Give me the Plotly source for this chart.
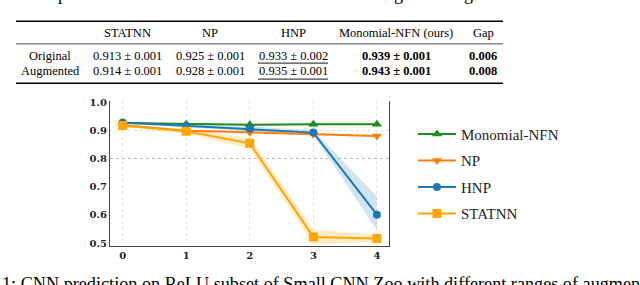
import plotly.graph_objects as go

# ---------------- table data ----------------
table_headers = ["STATNN", "NP", "HNP", "Monomial-NFN (ours)", "Gap"]
row_labels = ["Original", "Augmented"]
statnn_mean = [0.913, 0.914]
statnn_std = [0.001, 0.001]
np_mean = [0.925, 0.928]
np_std = [0.001, 0.001]
hnp_mean = [0.933, 0.935]
hnp_std = [0.002, 0.001]
mnfn_mean = [0.939, 0.943]
mnfn_std = [0.001, 0.001]
gap_values = [0.006, 0.008]

# ---------------- chart data ----------------
aug_levels = [0, 1, 2, 3, 4]
series_names = ["Monomial-NFN", "NP", "HNP", "STATNN"]
monomial_nfn = [0.926, 0.922, 0.920, 0.922, 0.922]
monomial_nfn_lo = [0.923, 0.919, 0.917, 0.919, 0.919]
monomial_nfn_hi = [0.929, 0.925, 0.923, 0.925, 0.925]
np_curve = [0.918, 0.899, 0.893, 0.886, 0.880]
np_curve_lo = [0.915, 0.896, 0.889, 0.883, 0.876]
np_curve_hi = [0.921, 0.902, 0.897, 0.889, 0.884]
hnp_curve = [0.928, 0.916, 0.906, 0.892, 0.601]
hnp_curve_lo = [0.924, 0.911, 0.898, 0.884, 0.545]
hnp_curve_hi = [0.932, 0.921, 0.914, 0.900, 0.665]
statnn_curve = [0.917, 0.897, 0.854, 0.522, 0.516]
statnn_curve_lo = [0.912, 0.889, 0.835, 0.495, 0.505]
statnn_curve_hi = [0.922, 0.905, 0.872, 0.548, 0.530]
x_tick_labels = ["0", "1", "2", "3", "4"]
y_tick_values = [0.5, 0.6, 0.7, 0.8, 0.9, 1.0]
y_tick_labels = ["0.5", "0.6", "0.7", "0.8", "0.9", "1.0"]
ref_lines = [0.9, 0.8]

caption_text = "1: CNN prediction on ReLU subset of Small CNN Zoo with different ranges of augmen"
top_fragments = ["p", "g", "g"]

# ---------------- styles ----------------
W, H = 640, 285
SERIF = "Liberation Serif, Times New Roman, serif"
colors = ["#1e8c1e", "#ff7f0e", "#1f77b4", "#ffa500"]
fills = ["rgba(30,140,30,0.18)", "rgba(255,127,14,0.18)",
         "rgba(31,119,180,0.2)", "rgba(255,165,0,0.22)"]
symbols = ["triangle-up", "triangle-down", "circle", "square"]


def px(x):
    return x / W


def py(y):
    return 1 - y / H


fig = go.Figure()

means = [monomial_nfn, np_curve, hnp_curve, statnn_curve]
los = [monomial_nfn_lo, np_curve_lo, hnp_curve_lo, statnn_curve_lo]
his = [monomial_nfn_hi, np_curve_hi, hnp_curve_hi, statnn_curve_hi]

# bands
for i in range(4):
    fig.add_trace(go.Scatter(x=aug_levels, y=his[i], mode="lines",
                             line=dict(width=0, color=fills[i]),
                             showlegend=False, hoverinfo="skip"))
    fig.add_trace(go.Scatter(x=aug_levels, y=los[i], mode="lines",
                             line=dict(width=0, color=fills[i]),
                             fill="tonexty", fillcolor=fills[i],
                             showlegend=False, hoverinfo="skip"))

# lines
for i in range(4):
    fig.add_trace(go.Scatter(x=aug_levels, y=means[i], mode="lines+markers",
                             name=series_names[i], legendgroup=series_names[i],
                             line=dict(color=colors[i], width=2),
                             marker=dict(symbol=symbols[i], size=9 if i != 2 else 8,
                                         color=colors[i], line=dict(width=0))))

shapes = []
for v in ref_lines:
    shapes.append(dict(type="line", xref="paper", yref="y",
                       x0=px(110), x1=px(389), y0=v, y1=v,
                       line=dict(color="#bbbbbb" if v == 0.8 else "#dddddd",
                                 width=1, dash="dot"), layer="below"))

# ---------------- table ----------------
col_x = [127, 210, 293, 396, 483]
row_y = [52.5, 68.3]
header_y = 29
label_x = 50
TFS = 12.5
annotations = []
for h, cx in zip(table_headers, col_x):
    annotations.append(dict(x=px(cx), y=py(header_y), xref="paper", yref="paper",
                            text=h, showarrow=False, xanchor="center", yanchor="middle",
                            font=dict(family=SERIF, size=TFS, color="black")))
for r in range(2):
    cells = [
        f"{statnn_mean[r]:.3f} ± {statnn_std[r]:.3f}",
        f"{np_mean[r]:.3f} ± {np_std[r]:.3f}",
        f"{hnp_mean[r]:.3f} ± {hnp_std[r]:.3f}",
        f"<b>{mnfn_mean[r]:.3f} ± {mnfn_std[r]:.3f}</b>",
        f"<b>{gap_values[r]:.3f}</b>",
    ]
    annotations.append(dict(x=px(label_x), y=py(row_y[r]), xref="paper", yref="paper",
                            text=row_labels[r], showarrow=False, xanchor="center",
                            yanchor="middle",
                            font=dict(family=SERIF, size=TFS, color="black")))
    for c, cx in zip(cells, col_x):
        annotations.append(dict(x=px(cx), y=py(row_y[r]), xref="paper", yref="paper",
                                text=c, showarrow=False, xanchor="center", yanchor="middle",
                                font=dict(family=SERIF, size=TFS, color="black")))

# rules
for yy, w in [(16.7, 1.3), (40, 0.7), (80.5, 1.3)]:
    shapes.append(dict(type="line", xref="paper", yref="paper",
                       x0=px(16), x1=px(503), y0=py(yy), y1=py(yy),
                       line=dict(color="black", width=w)))
# underlines for second best
for yy in [59.8, 76.2]:
    shapes.append(dict(type="line", xref="paper", yref="paper",
                       x0=px(258), x1=px(328), y0=py(yy), y1=py(yy),
                       line=dict(color="#444444", width=1.2)))

# caption (cut by the frame)
annotations.append(dict(x=0, y=py(275), xref="paper", yref="paper",
                        text=caption_text, showarrow=False, xanchor="left", yanchor="top",
                        font=dict(family=SERIF, size=18.2, color="black")))
for frag, fx in zip(top_fragments, [62, 398, 468]):
    annotations.append(dict(x=px(fx), y=py(1), xref="paper", yref="paper",
                            text=frag, showarrow=False, xanchor="center", yanchor="bottom",
                            font=dict(family=SERIF, size=18, color="black")))

fig.update_layout(
    width=W, height=H,
    margin=dict(l=0, r=0, t=0, b=0),
    paper_bgcolor="white", plot_bgcolor="white",
    showlegend=True,
    legend=dict(x=px(413), y=py(116), xanchor="left", yanchor="top",
                font=dict(family=SERIF, size=15, color="#222222"),
                bgcolor="rgba(0,0,0,0)", itemwidth=38,
                traceorder="grouped", tracegroupgap=4),
    xaxis=dict(domain=[px(110), px(389)], range=[-0.2, 4.19],
               tickvals=aug_levels, ticktext=x_tick_labels,
               showgrid=True, gridcolor="#e3e3e3", griddash="dot", gridwidth=1,
               zeroline=False, showline=True, linecolor="#444444", linewidth=1.3,
               ticks="", tickfont=dict(family="DejaVu Serif", size=10, color="#222222",
                                       weight="bold"),
               fixedrange=True),
    yaxis=dict(domain=[py(248), py(99)], range=[0.4897, 1.0034],
               tickvals=y_tick_values, ticktext=y_tick_labels,
               showgrid=False, zeroline=False, showline=True, mirror=True,
               linecolor="#444444", linewidth=1.3,
               ticks="", tickfont=dict(family="DejaVu Serif", size=10, color="#222222",
                                       weight="bold"),
               fixedrange=True),
    shapes=shapes,
    annotations=annotations,
)

fig.write_html("out.html",
               config={"displayModeBar": False},
               post_script="document.body.style.margin='0';"
                           "document.body.style.overflow='hidden';")
